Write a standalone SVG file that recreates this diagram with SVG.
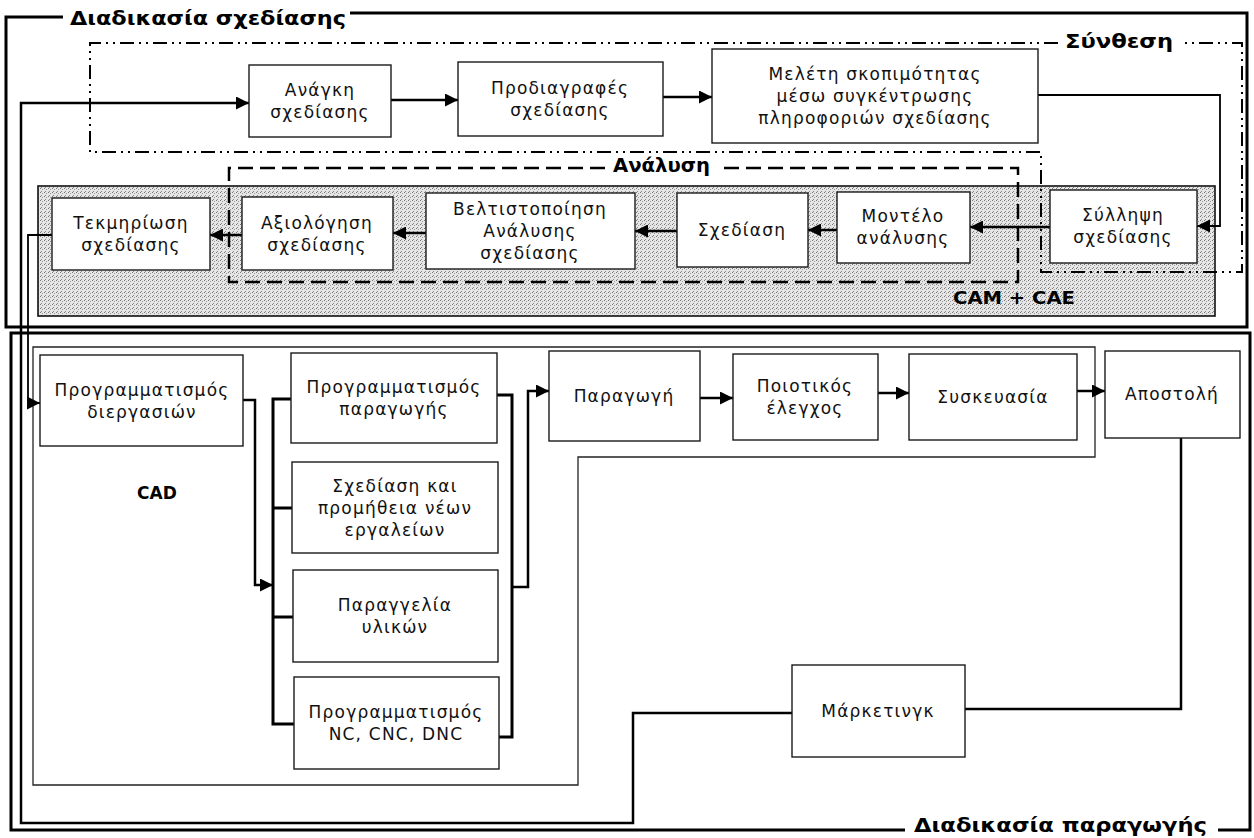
<svg xmlns="http://www.w3.org/2000/svg" width="1254" height="838" viewBox="0 0 1254 838">
<defs>
<style>
.bx{fill:#fff;stroke:#1a1a1a;stroke-width:1.4}
.t{font-family:"DejaVu Sans","Noto Sans",sans-serif;font-size:17px;letter-spacing:1.2px;text-anchor:middle;fill:#111}
.b{font-family:"DejaVu Sans","Noto Sans",sans-serif;font-weight:bold;fill:#000}
.frame{fill:none;stroke:#000;stroke-width:3}
.cn{fill:none;stroke:#000;stroke-width:2.5}
.cnt{fill:none;stroke:#000;stroke-width:1.8}
.bus{fill:none;stroke:#000;stroke-width:3}
.thin{fill:none;stroke:#222;stroke-width:1.3}
.syn{fill:none;stroke:#000;stroke-width:2;stroke-dasharray:14 5 2 5 2 5}
.ana{fill:none;stroke:#000;stroke-width:2.5;stroke-dasharray:15 7}
</style>
<marker id="ah" viewBox="0 0 12 12" refX="12" refY="6" markerWidth="13" markerHeight="13" markerUnits="userSpaceOnUse" orient="auto">
<path d="M0,0 L12,6 L0,12 z" fill="#000"/>
</marker>
<pattern id="dith" width="4" height="4" patternUnits="userSpaceOnUse">
<rect width="4" height="4" fill="#e6e6e6"/>
<rect x="0" y="0" width="1" height="1" fill="#777"/>
<rect x="2" y="1" width="1" height="1" fill="#999"/>
<rect x="1" y="3" width="1" height="1" fill="#888"/>
</pattern>
</defs>
<rect width="1254" height="838" fill="#fff"/>

<g id="frames">
<path class="frame" d="M63,17 H6 V327 H1247 V13 H350"/>
<text class="b" x="70" y="25" font-size="20" textLength="276" lengthAdjust="spacingAndGlyphs">Διαδικασία σχεδίασης</text>
<path class="frame" d="M905,830 H11 V333 H1250 V830 H1218"/>
<text class="b" x="914" y="832" font-size="19" textLength="293" lengthAdjust="spacingAndGlyphs">Διαδικασία παραγωγής</text>
</g>

<g id="regions">
<rect id="cam-cae" x="38" y="186" width="1177" height="130" fill="url(#dith)" stroke="#111" stroke-width="1.6"/>
<text class="b" x="953" y="304" font-size="18" textLength="122" lengthAdjust="spacingAndGlyphs">CAM + CAE</text>
<path class="syn" d="M1058,43 H90 V152 H1041 V272 H1242 V43 H1180"/>
<text class="b" x="1065" y="48" font-size="19" textLength="108" lengthAdjust="spacingAndGlyphs">Σύνθεση</text>
<path class="ana" d="M605,168 H229 V282 H1018 V168 H718"/>
<text class="b" x="613" y="172" font-size="19" textLength="97" lengthAdjust="spacingAndGlyphs">Ανάλυση</text>
<path class="thin" d="M33,347 H1095 V457 H578 V785 H33 Z"/>
<text class="b" x="137" y="499" font-size="17">CAD</text>
</g>

<g id="connectors">
<path class="cn" d="M792,713 H633 V823 H21 V103 H249" marker-end="url(#ah)"/>
<path class="cn" d="M391,100 H458" marker-end="url(#ah)"/>
<path class="cn" d="M663,97 H712" marker-end="url(#ah)"/>
<path class="cnt" d="M1038,95 H1220 V226 H1197" marker-end="url(#ah)"/>
<path class="cn" d="M1050,227 H970" marker-end="url(#ah)"/>
<path class="cn" d="M837,230 H808" marker-end="url(#ah)"/>
<path class="cn" d="M677,231 H635" marker-end="url(#ah)"/>
<path class="cn" d="M426,233 H393" marker-end="url(#ah)"/>
<path class="cn" d="M242,235 H210" marker-end="url(#ah)"/>
<path class="cnt" d="M52,235 H28 V403 H40" marker-end="url(#ah)"/>
<path class="cn" d="M243,400 H255 V585 H273" marker-end="url(#ah)"/>
<path class="bus" d="M291,399 H273 V724 H294 M273,508 H292 M273,617 H293"/>
<path class="bus" d="M497,395 H512 V737 H499"/>
<path class="cn" d="M512,587 H528 V391 H549" marker-end="url(#ah)"/>
<path class="cn" d="M700,398 H733" marker-end="url(#ah)"/>
<path class="cn" d="M878,393 H909" marker-end="url(#ah)"/>
<path class="cn" d="M1077,391 H1105" marker-end="url(#ah)"/>
<path class="cn" d="M965,709 H1181 V438"/>
</g>

<g id="n-anagki"><rect class="bx" x="249" y="65" width="142" height="72"/><text class="t" x="320" y="96">Ανάγκη</text><text class="t" x="320" y="118">σχεδίασης</text></g>
<g id="n-prodiagrafes"><rect class="bx" x="458" y="62" width="205" height="74"/><text class="t" x="560" y="94">Προδιαγραφές</text><text class="t" x="560" y="116">σχεδίασης</text></g>
<g id="n-meleti"><rect class="bx" x="712" y="49" width="326" height="94"/><text class="t" x="875" y="80">Μελέτη σκοπιμότητας</text><text class="t" x="875" y="102">μέσω συγκέντρωσης</text><text class="t" x="875" y="124">πληροφοριών σχεδίασης</text></g>

<g id="n-tekmiriosi"><rect class="bx" x="52" y="198" width="158" height="72"/><text class="t" x="131" y="229">Τεκμηρίωση</text><text class="t" x="131" y="251">σχεδίασης</text></g>
<g id="n-axiologisi"><rect class="bx" x="242" y="197" width="151" height="73"/><text class="t" x="317" y="229">Αξιολόγηση</text><text class="t" x="317" y="251">σχεδίασης</text></g>
<g id="n-veltistopoiisi"><rect class="bx" x="426" y="193" width="209" height="76"/><text class="t" x="530" y="215">Βελτιστοποίηση</text><text class="t" x="530" y="237">Ανάλυσης</text><text class="t" x="530" y="259">σχεδίασης</text></g>
<g id="n-sxediasi"><rect class="bx" x="677" y="193" width="131" height="74"/><text class="t" x="742" y="236">Σχεδίαση</text></g>
<g id="n-montelo"><rect class="bx" x="837" y="192" width="133" height="71"/><text class="t" x="903" y="222">Μοντέλο</text><text class="t" x="903" y="244">ανάλυσης</text></g>
<g id="n-syllipsi"><rect class="bx" x="1050" y="190" width="147" height="73"/><text class="t" x="1123" y="221">Σύλληψη</text><text class="t" x="1123" y="243">σχεδίασης</text></g>

<g id="n-prog-diergasion"><rect class="bx" x="40" y="355" width="203" height="91"/><text class="t" x="142" y="396">Προγραμματισμός</text><text class="t" x="142" y="418">διεργασιών</text></g>
<g id="n-prog-paragogis"><rect class="bx" x="291" y="353" width="206" height="90"/><text class="t" x="394" y="393">Προγραμματισμός</text><text class="t" x="394" y="415">παραγωγής</text></g>
<g id="n-sxediasi-promitheia"><rect class="bx" x="292" y="462" width="206" height="91"/><text class="t" x="395" y="492">Σχεδίαση και</text><text class="t" x="395" y="514">προμήθεια νέων</text><text class="t" x="395" y="536">εργαλείων</text></g>
<g id="n-paraggelia"><rect class="bx" x="293" y="570" width="205" height="92"/><text class="t" x="395" y="611">Παραγγελία</text><text class="t" x="395" y="633">υλικών</text></g>
<g id="n-prog-nc"><rect class="bx" x="294" y="677" width="205" height="92"/><text class="t" x="396" y="718">Προγραμματισμός</text><text class="t" x="396" y="740">NC, CNC, DNC</text></g>
<g id="n-paragogi"><rect class="bx" x="549" y="351" width="151" height="90"/><text class="t" x="624" y="402">Παραγωγή</text></g>
<g id="n-poiotikos"><rect class="bx" x="733" y="354" width="145" height="86"/><text class="t" x="805" y="392">Ποιοτικός</text><text class="t" x="805" y="414">έλεγχος</text></g>
<g id="n-syskevasia"><rect class="bx" x="909" y="354" width="168" height="86"/><text class="t" x="993" y="403">Συσκευασία</text></g>
<g id="n-apostoli"><rect class="bx" x="1105" y="351" width="135" height="87"/><text class="t" x="1172" y="400">Αποστολή</text></g>
<g id="n-marketing"><rect class="bx" x="792" y="665" width="173" height="92"/><text class="t" x="878" y="717">Μάρκετινγκ</text></g>
</svg>
